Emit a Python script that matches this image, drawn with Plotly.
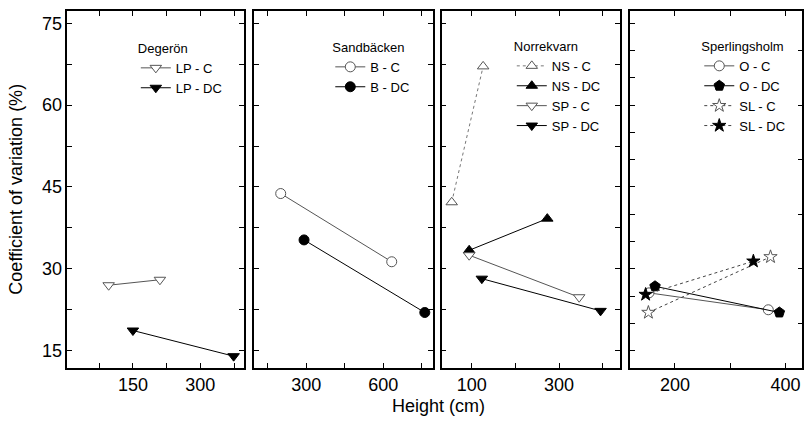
import plotly.graph_objects as go

# ---------------- data ----------------
# Degerön
LP_C_x = [96, 210];   LP_C_y = [27.0, 28.0]
LP_DC_x = [150, 374]; LP_DC_y = [18.7, 14.0]
# Sandbäcken
B_C_x = [200, 633];   B_C_y = [43.8, 31.3]
B_DC_x = [291, 762];  B_DC_y = [35.3, 22.0]
# Norrekvarn
NS_C_x = [54, 126];   NS_C_y = [42.2, 67.1]
NS_DC_x = [94, 273];  NS_DC_y = [33.4, 39.2]
SP_C_x = [94, 346];   SP_C_y = [32.5, 24.8]
SP_DC_x = [123, 395]; SP_DC_y = [28.2, 22.3]
# Sperlingsholm
O_C_x = [153, 369];   O_C_y = [25.6, 22.5]
O_DC_x = [164, 389];  O_DC_y = [26.8, 22.0]
SL_C_x = [152, 373];  SL_C_y = [22.0, 32.2]
SL_DC_x = [147, 342]; SL_DC_y = [25.3, 31.4]

site_names = ["Degerön", "Sandbäcken", "Norrekvarn", "Sperlingsholm"]
y_title = "Coefficient of variation (%)"
x_title = "Height (cm)"

FONT = "Liberation Sans, Arial, sans-serif"
GRAY = "#555555"
BLACK = "#000000"

fig = go.Figure()


def add(x, y, name, symbol, filled, panel, dash="solid", size=10, lcolor=None, lw=1.0):
    ax = "" if panel == 1 else str(panel)
    mcolor = BLACK if filled else "white"
    mline = BLACK if filled else GRAY
    fig.add_trace(go.Scatter(
        x=x, y=y, name=name, mode="lines+markers",
        xaxis="x" + ax, yaxis="y" + ax,
        legend="legend" + ax,
        line=dict(color=lcolor or (BLACK if filled else GRAY), width=lw, dash=dash),
        marker=dict(symbol=symbol, size=size, color=mcolor,
                    line=dict(color=mline, width=1)),
    ))


add(LP_C_x, LP_C_y, "LP - C", "triangle-down", False, 1)
add(LP_DC_x, LP_DC_y, "LP - DC", "triangle-down", True, 1)
add(B_C_x, B_C_y, "B - C", "circle", False, 2)
add(B_DC_x, B_DC_y, "B - DC", "circle", True, 2)
add(NS_C_x, NS_C_y, "NS - C", "triangle-up", False, 3, dash="dot", lcolor="#777777")
add(NS_DC_x, NS_DC_y, "NS - DC", "triangle-up", True, 3)
add(SP_C_x, SP_C_y, "SP - C", "triangle-down", False, 3)
add(SP_DC_x, SP_DC_y, "SP - DC", "triangle-down", True, 3)
add(O_C_x, O_C_y, "O - C", "circle", False, 4)
add(O_DC_x, O_DC_y, "O - DC", "pentagon", True, 4, size=11)
add(SL_C_x, SL_C_y, "SL - C", "star", False, 4, dash="dot", lcolor="#444444")
add(SL_DC_x, SL_DC_y, "SL - DC", "star", True, 4, dash="dot", lcolor="#444444")

W, H = 804, 421
ML, MR, MT, MB = 67, 0, 11, 53
PW = W - ML - MR

domains = [(0.3, 177), (187.3, 367), (375.7, 554.7), (564.7, 737)]
xranges = [[4, 396], [95, 794], [31, 440], [119, 430]]
xticks = [(0, 150, 75), (0, 300, 150), (100, 200, 100), (0, 200, 100)]
YR = [11.83, 77.25]

tickfont = dict(family=FONT, size=18, color="black")
common = dict(showline=True, linecolor="black", linewidth=1.5, ticks="inside",
              ticklen=5, tickwidth=1, tickcolor="black", showgrid=False,
              zeroline=False, tickfont=tickfont)

layout = dict(
    width=W, height=H, margin=dict(l=ML, r=MR, t=MT, b=MB),
    plot_bgcolor="white", paper_bgcolor="white",
    font=dict(family=FONT, color="black"),
)

leg_pos = [(136, 36), (331, 35), (513, 34), (701, 34)]

for i in range(4):
    ax = "" if i == 0 else str(i + 1)
    d0, d1 = domains[i]
    t0, dt, mdt = xticks[i]
    layout["xaxis" + ax] = dict(
        common, domain=[d0 / PW, d1 / PW], range=xranges[i], anchor="y" + ax,
        tick0=t0, dtick=dt, mirror="ticks",
        minor=dict(dtick=mdt, tick0=0, ticks="inside", ticklen=5, tickcolor="black"),
    )
    ydict = dict(common, range=YR, anchor="x" + ax, showticklabels=(i == 0))
    if i < 3:
        ydict.update(tick0=0, dtick=15, mirror="ticks",
                     minor=dict(dtick=7.5, tick0=0, ticks="inside", ticklen=5, tickcolor="black"))
    else:
        ydict.update(tick0=0, dtick=5, mirror=True)
    layout["yaxis" + ax] = ydict
    lx, ly = leg_pos[i]
    layout["legend" + ax] = dict(
        x=(lx - ML) / PW, y=1 - (ly - MT) / (H - MT - MB), xanchor="left", yanchor="top",
        bgcolor="rgba(0,0,0,0)", borderwidth=0,
        font=dict(family=FONT, size=13, color="black"),
        title=dict(text=site_names[i], font=dict(family=FONT, size=13, color="black")),
        itemwidth=30,
    )

layout["yaxis5"] = dict(range=YR, overlaying="y4", anchor="x4", side="right",
                        showline=False, ticks="inside", ticklen=4, tick0=0, dtick=10,
                        tickcolor="black", showticklabels=False, showgrid=False,
                        zeroline=False)

layout["annotations"] = [
    dict(text=y_title, xref="paper", yref="paper", x=(15 - ML) / PW, y=0.5,
         textangle=-90, showarrow=False, xanchor="center", yanchor="middle",
         font=dict(family=FONT, size=18, color="black")),
    dict(text=x_title, xref="paper", yref="paper", x=(440 - ML) / PW,
         y=-(406 - (H - MB)) / (H - MT - MB), showarrow=False,
         xanchor="center", yanchor="middle",
         font=dict(family=FONT, size=18, color="black")),
]

fig.update_layout(**layout)
# dummy trace to activate yaxis5
fig.add_trace(go.Scatter(x=[None], y=[None], xaxis="x4", yaxis="y5",
                         showlegend=False, hoverinfo="skip"))
fig.write_html("out.html", config={"displayModeBar": False},
               post_script="document.body.style.margin='0';document.body.style.overflow='hidden';")
